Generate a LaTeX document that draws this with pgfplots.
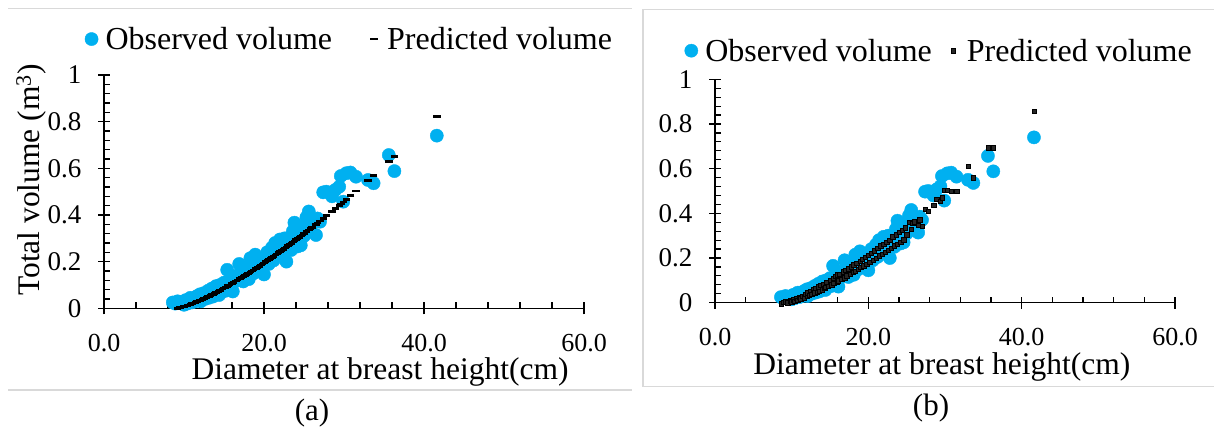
\documentclass[border=0pt]{standalone}
\usepackage{fontspec}
\setmainfont{Liberation Serif}
\usepackage{pgfplots}
\usepackage{pgfplotstable}
\pgfplotsset{compat=1.18}
\definecolor{obsblue}{HTML}{00B0F0}
\definecolor{framegray}{HTML}{D9D9D9}
\definecolor{predgray}{HTML}{262626}

% D = diameter (cm); obs = observed volume; pa = predicted (a); pb = predicted (b)
\pgfplotstableread{
D obs pa pb
8.6 0.025 nan -0.004
8.9 0.020 nan 0.002
9.2 0.030 0.0005 0.004
9.5 0.022 0.0025 0.000
9.8 0.028 0.0052 0.009
10.0 0.015 0.0072 0.005
10.2 0.035 0.0094 0.014
10.4 0.020 0.0118 0.008
10.6 0.030 0.0142 0.019
10.8 0.045 0.0168 0.012
11.0 0.025 0.0194 0.025
11.2 0.040 0.0222 0.017
11.4 0.030 0.0250 0.030
11.6 0.052 0.0279 0.022
11.8 0.035 0.0309 0.038
12.0 0.060 0.0339 0.029
12.1 0.030 0.0355 0.045
12.3 0.048 0.0386 0.033
12.5 0.065 0.0418 0.052
12.6 0.040 0.0435 0.037
12.8 0.055 0.0468 0.058
13.0 0.075 0.0502 0.044
13.1 0.045 0.0519 0.064
13.3 0.062 0.0553 0.047
13.5 0.085 0.0588 0.072
13.6 0.050 0.0606 0.052
13.8 0.072 0.0642 0.078
14.0 0.095 0.0678 0.058
14.1 0.060 0.0696 0.084
14.3 0.080 0.0733 0.064
14.4 0.057 0.0752 0.070
14.5 0.100 0.0770 0.092
14.8 0.088 0.0828 0.074
15.0 0.110 0.0866 0.100
15.2 0.075 0.0905 0.080
15.4 0.165 0.0944 0.110
15.5 0.100 0.0964 0.088
15.7 0.120 0.1004 0.118
15.9 0.090 0.1044 0.094
16.0 0.130 0.1064 0.125
16.1 0.072 0.1085 0.098
16.2 0.110 0.1105 0.128
16.5 0.140 0.1167 0.105
16.7 0.120 0.1209 0.138
16.9 0.190 0.1251 0.112
17.0 0.135 0.1272 0.146
17.2 0.150 0.1315 0.120
17.4 0.115 0.1358 0.152
17.6 0.160 0.1402 0.128
17.8 0.140 0.1445 0.162
18.0 0.170 0.1489 0.136
18.1 0.125 0.1511 0.170
18.3 0.215 0.1556 0.142
18.5 0.165 0.1600 0.178
18.7 0.150 0.1645 0.150
18.9 0.230 0.1690 0.186
19.0 0.180 0.1713 0.158
19.2 0.160 0.1759 0.195
19.4 0.200 0.1806 0.165
19.6 0.175 0.1852 0.204
19.8 0.215 0.1899 0.172
20.0 0.145 0.1946 0.212
20.2 0.200 0.1993 0.182
20.4 0.240 0.2040 0.222
20.6 0.190 0.2088 0.190
20.8 0.225 0.2136 0.232
21.0 0.260 0.2184 0.198
21.2 0.205 0.2233 0.245
21.4 0.280 0.2282 0.210
21.6 0.230 0.2331 0.255
21.8 0.250 0.2381 0.218
22.0 0.295 0.2430 0.262
22.2 0.235 0.2480 0.226
22.4 0.265 0.2530 0.270
22.6 0.300 0.2580 0.236
22.8 0.200 0.2630 0.280
23.0 0.270 0.2680 0.245
23.2 0.290 0.2732 0.296
23.4 0.250 0.2784 0.255
23.6 0.330 0.2836 0.305
23.8 0.367 0.2887 0.262
24.0 0.300 0.2939 0.315
24.2 0.265 0.2991 0.272
24.4 0.320 0.3044 0.325
24.6 0.270 0.3096 0.282
24.8 0.350 0.3148 0.335
25.0 0.310 0.3200 0.305
25.3 0.390 0.3281 0.360
25.6 0.415 0.3362 0.328
25.8 0.340 0.3415 0.355
26.0 0.370 0.3469 0.362
26.5 0.314 0.3604 0.348
26.7 0.385 0.3660 0.372
27.0 0.371 0.3743 0.343
27.4 0.497 0.3855 0.418
27.8 0.500 0.3964 0.410
28.5 0.480 0.4160 0.437
28.9 0.507 0.4272 0.463
29.4 0.521 0.4418 0.455
29.6 0.567 0.4475 0.470
29.9 0.457 0.4562 0.504
30.3 0.579 0.4678 0.504
30.8 0.582 0.4824 0.500
31.5 0.564 0.5030 0.500
33.0 0.550 0.5475 0.612
33.7 0.536 0.5690 0.560
35.6 0.657 0.6280 0.694
36.3 0.588 0.6500 0.694
41.6 0.740 0.8220 0.858
}\datatable

\pgfplotsset{
  panel/.style={
    scale only axis,
    xmin=0, xmax=60, ymin=0, ymax=1,
    axis x line=bottom, axis y line=left,
    axis line style={-, line width=1.3pt, black},
    xtick={0,20,40,60}, ytick={0,0.2,0.4,0.6,0.8,1},
    minor x tick num=4, minor y tick num=4,
    tick align=inside, major tick length=6pt, minor tick length=6pt,
    tick style={line width=1.2pt, black},
    extra x ticks={0,20,40,60}, extra y ticks={0,0.2,0.4,0.6,0.8,1},
    extra x tick labels={{},{},{},{}}, extra y tick labels={{},{},{},{},{},{}},
    extra tick style={tick align=outside, major tick length=6pt},
    /pgf/number format/assume math mode=true,
    xticklabel style={/pgf/number format/.cd, fixed, fixed zerofill, precision=1, /tikz/.cd,
      font=\fontsize{26}{30}\selectfont, yshift=-22pt},
    yticklabel style={/pgf/number format/.cd, fixed, precision=1, /tikz/.cd,
      font=\fontsize{27}{30}\selectfont, xshift=-19pt},
    label style={font=\fontsize{31.5}{36}\selectfont},
    legend style={draw=none, fill=none, legend columns=2,
      font=\fontsize{32}{36}\selectfont, legend cell align=left,
      inner sep=0pt, column sep=0pt},
    clip=false,
  },
  obsstyle/.style={only marks, mark=*, mark size=6.6pt, color=obsblue,
    mark options={draw=none, fill=obsblue}},
  obslegA/.style={legend image code/.code={\path[draw=none] (-7pt,0pt) -- (12pt,0pt);
      \draw[##1] plot coordinates {(0pt,0pt)};}},
  obslegB/.style={legend image code/.code={\path[draw=none] (-7pt,0pt) -- (12pt,0pt);
      \draw[##1] plot coordinates {(0pt,0pt)};}},
  predastyle/.style={only marks, mark=-, mark size=3.7pt, line width=2.7pt, black,
    legend image code/.code={\path[draw=none] (-40pt,0pt) -- (11pt,0pt);
      \draw[##1] plot coordinates {(0pt,0pt)};}},
  predbstyle/.style={only marks, mark=square*, mark size=2.2pt, black,
    mark options={fill=predgray, draw=black, line width=0.4pt},
    legend image code/.code={\path[draw=none] (-19pt,0pt) -- (12pt,0pt);
      \draw[##1] plot coordinates {(0pt,0pt)};}},
}

\begin{document}
\begin{tikzpicture}
\useasboundingbox (0pt,0pt) rectangle (1214pt,427pt);
\draw[framegray, line width=1.5pt] (8pt,418.7pt) -- (632pt,418.7pt);
\draw[framegray, line width=1.5pt] (8pt,37pt) -- (632pt,37pt);
\draw[framegray, line width=1.5pt] (643pt,40.3pt) rectangle (1225pt,417.7pt);

\begin{axis}[panel,
  at={(104pt,118.7pt)}, anchor=south west, width=480pt, height=233.3pt,
  xlabel={Diameter at breast height(cm)},
  ylabel={Total volume (m\textsuperscript{3})},
  xlabel style={at={(axis description cs:0.575,-0.274)}, anchor=center},
  ylabel style={at={(axis description cs:-0.151,0.55)}, anchor=center},
  legend style={at={(axis description cs:0.511,1.154)}, anchor=center},
]
\addplot[obsstyle, obslegA] table[x=D, y=obs] {\datatable};
\addlegendentry{Observed volume}
\addplot[predastyle] table[x=D, y=pa] {\datatable};
\addlegendentry{Predicted volume}
\end{axis}

\begin{axis}[panel,
  at={(715pt,124.3pt)}, anchor=south west, width=460pt, height=223.4pt,
  xlabel={Diameter at breast height(cm)},
  xlabel style={at={(axis description cs:0.493,-0.288)}, anchor=center},
  legend style={at={(axis description cs:0.487,1.128)}, anchor=center},
]
\addplot[obsstyle, obslegB] table[x=D, y=obs] {\datatable};
\addlegendentry{Observed volume}
\addplot[predbstyle] table[x=D, y=pb] {\datatable};
\addlegendentry{Predicted volume}
\end{axis}

\node[font=\fontsize{31}{36}\selectfont] at (312pt,14pt) {(a)};
\node[font=\fontsize{31}{36}\selectfont] at (931pt,19pt) {(b)};
\end{tikzpicture}
\end{document}
